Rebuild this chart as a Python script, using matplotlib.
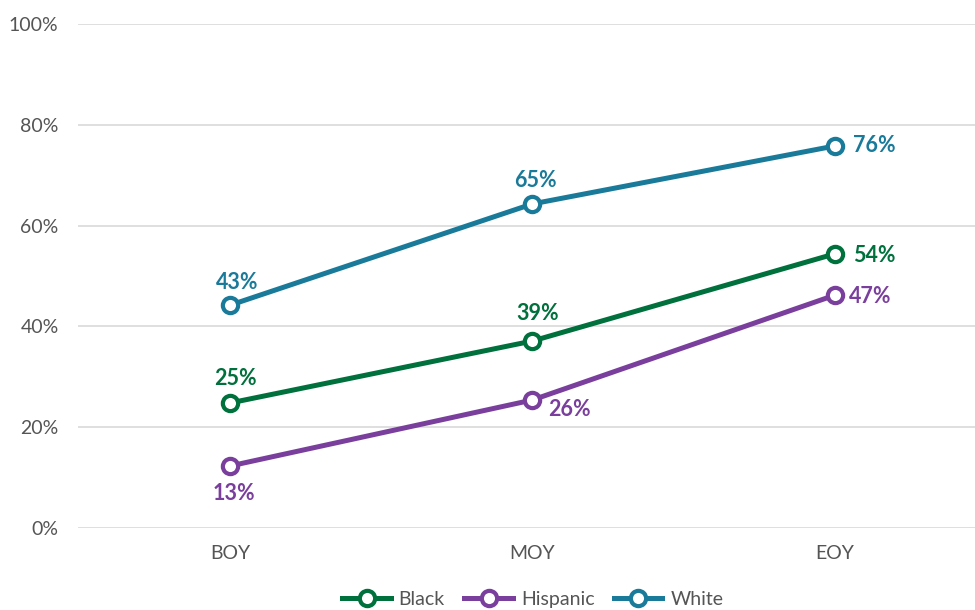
import matplotlib.pyplot as plt

plt.rcParams['font.family'] = ['Lato', 'DejaVu Sans']

periods = ['BOY', 'MOY', 'EOY']
groups = ['Black', 'Hispanic', 'White']
black = [24.8, 37.1, 54.4]
hispanic = [12.3, 25.4, 46.2]
white = [44.2, 64.3, 75.8]
black_labels = ['25%', '39%', '54%']
hispanic_labels = ['13%', '26%', '47%']
white_labels = ['43%', '65%', '76%']

colors = {'Black': '#00703c', 'Hispanic': '#7a3f9d', 'White': '#1a7a9a'}

# label offsets in points: (dx, dy, ha)
series = {
    'Black': (black, black_labels, [(4, 18, 'center'), (3.5, 19.5, 'center'), (13, -1.5, 'left')]),
    'Hispanic': (hispanic, hispanic_labels, [(3, -20, 'center'), (26.5, -7, 'center'), (10, -0.7, 'left')]),
    'White': (white, white_labels, [(5, 16.5, 'center'), (2, 16.5, 'center'), (13, 0, 'left')]),
}

fig = plt.figure(figsize=(9.75, 6.10), dpi=100)
ax = fig.add_axes([0.08, 0.1344, 0.92, 0.8263])

x = list(range(len(periods)))
for g in groups:
    vals, labs, offs = series[g]
    ax.plot(x, vals, color=colors[g], linewidth=3.6, marker='o', markersize=11,
            markerfacecolor='white', markeredgecolor=colors[g], markeredgewidth=3,
            label=g, zorder=3)
    for xi, v, lab, (dx, dy, ha) in zip(x, vals, labs, offs):
        ax.annotate(lab, (xi, v), xytext=(dx, dy), textcoords='offset points',
                    ha=ha, va='center', color=colors[g], fontsize=15.5, fontweight='bold')

ax.set_xlim(-0.502, 2.463)
ax.set_ylim(0, 100)
ax.set_yticks(range(0, 101, 20))
ax.set_yticklabels([f'{v}%' for v in range(0, 101, 20)])
ax.set_xticks(x)
ax.set_xticklabels(periods)
ax.grid(axis='y', color='#d9d9d9', linewidth=1.2)
ax.set_axisbelow(True)
for s in ax.spines.values():
    s.set_visible(False)
ax.tick_params(axis='both', length=0, labelsize=14, colors='#555555')
ax.tick_params(axis='y', pad=14)
ax.tick_params(axis='x', pad=12)

ax.legend(loc='center', bbox_to_anchor=(0.507, -0.141), ncol=3, frameon=False,
          fontsize=14, handlelength=2.5, columnspacing=1.0, handletextpad=0.4,
          labelcolor='#555555')

fig.savefig('out.png', dpi=100)
